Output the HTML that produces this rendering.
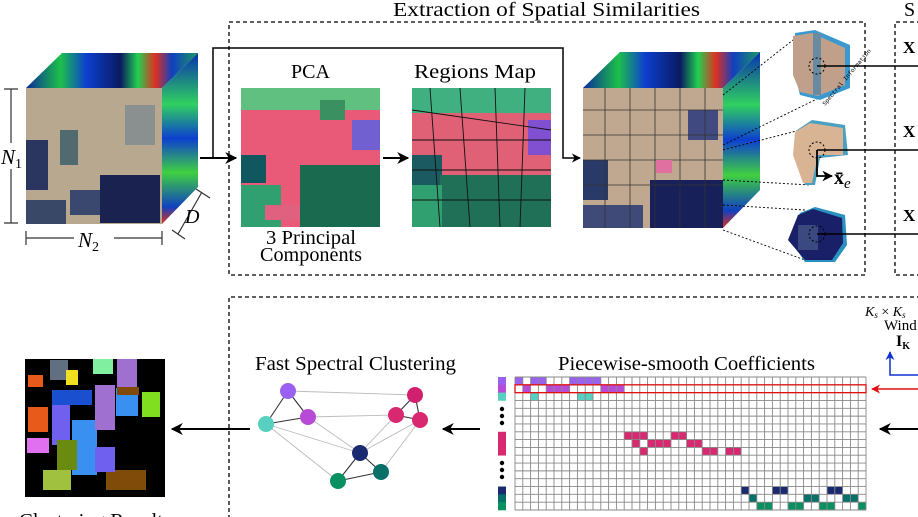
<!DOCTYPE html>
<html><head><meta charset="utf-8"><style>
html,body{margin:0;padding:0;background:#fff;width:918px;height:517px;overflow:hidden}
svg{display:block;font-family:"Liberation Serif",serif}
</style></head><body>
<svg id="fig" width="918" height="517" viewBox="0 0 918 517">
<defs>
<linearGradient id="spec" x1="0" y1="0" x2="1" y2="0">
<stop offset="0" stop-color="#0a2a9a"/><stop offset="0.2" stop-color="#1dc04a"/><stop offset="0.35" stop-color="#0d3fd0"/><stop offset="0.55" stop-color="#0a1a60"/><stop offset="0.65" stop-color="#22d050"/><stop offset="0.75" stop-color="#e03020"/><stop offset="0.85" stop-color="#1040c0"/><stop offset="1" stop-color="#1a9a60"/>
</linearGradient>
<linearGradient id="spec2" x1="0" y1="0" x2="0" y2="1">
<stop offset="0" stop-color="#0830b0"/><stop offset="0.3" stop-color="#30d060"/><stop offset="0.5" stop-color="#0d3fd0"/><stop offset="0.7" stop-color="#40d040"/><stop offset="0.9" stop-color="#1040c0"/><stop offset="1" stop-color="#e03020"/>
</linearGradient>
<marker id="ah" viewBox="0 0 10 10" refX="9" refY="5" markerWidth="6" markerHeight="6" orient="auto"><path d="M0,0 L10,5 L0,10 L3,5z" fill="#000"/></marker>
<marker id="ahr" viewBox="0 0 10 10" refX="9" refY="5" markerWidth="6" markerHeight="6" orient="auto"><path d="M0,0 L10,5 L0,10 L3,5z" fill="#e01010"/></marker>
<marker id="ahb" viewBox="0 0 10 10" refX="9" refY="5" markerWidth="6" markerHeight="6" orient="auto"><path d="M0,0 L10,5 L0,10 L3,5z" fill="#1030d0"/></marker>
</defs>

<!-- titles -->
<text x="393" y="16" font-size="20" textLength="307" lengthAdjust="spacingAndGlyphs">Extraction of Spatial Similarities</text>
<text x="904" y="16" font-size="20">S</text>

<!-- dashed boxes -->
<rect x="229" y="22" width="636" height="253" fill="none" stroke="#000" stroke-width="1.3" stroke-dasharray="4,3"/>
<path d="M935,22 H895 V275 H935" fill="none" stroke="#000" stroke-width="1.3" stroke-dasharray="4,3"/>
<path d="M935,297 H229 V530" fill="none" stroke="#000" stroke-width="1.3" stroke-dasharray="4,3"/>

<!-- cube 1 -->
<g>
<polygon points="26,88 62,53 198,53 162,88" fill="url(#spec)"/>
<polygon points="162,88 198,53 198,187 162,224" fill="url(#spec2)"/>
<rect x="26" y="88" width="136" height="136" fill="#b8a890"/>
<rect x="26" y="140" width="22" height="50" fill="#2a3560"/>
<rect x="100" y="175" width="60" height="48" fill="#1a2250"/>
<rect x="70" y="190" width="30" height="25" fill="#3a4870"/>
<rect x="125" y="105" width="30" height="40" fill="#8a9090"/>
<rect x="60" y="130" width="18" height="35" fill="#506a70"/>
<rect x="26" y="200" width="40" height="24" fill="#3a4868"/>
</g>
<g stroke="#333" stroke-width="1.2" fill="none">
<path d="M11,89 V223 M4,89 H18 M4,223 H18"/>
<path d="M26,238 H162 M26,231 V245 M162,231 V245"/>
<path d="M202,192 L178,234 M196,189 L210,198 M172,230 L185,239"/>
</g>
<rect x="0" y="143" width="24" height="26" fill="#fff"/>
<text x="1" y="164" font-size="21" font-style="italic">N<tspan font-size="14" dy="4" font-style="normal">1</tspan></text>
<rect x="74" y="228" width="40" height="22" fill="#fff"/>
<text x="78" y="247" font-size="21" font-style="italic">N<tspan font-size="14" dy="4" font-style="normal">2</tspan></text>
<text x="185" y="223" font-size="20" font-style="italic">D</text>

<!-- arrows top -->
<path d="M200,158 H236" stroke="#000" stroke-width="2" marker-end="url(#ah)"/>
<path d="M213,158 V48 H563 V158 H580" fill="none" stroke="#000" stroke-width="1.5" marker-end="url(#ah)"/>
<path d="M383,158 H408" stroke="#000" stroke-width="2" marker-end="url(#ah)"/>

<!-- PCA -->
<text x="291" y="78" font-size="20" textLength="39" lengthAdjust="spacingAndGlyphs">PCA</text>
<g>
<rect x="241" y="88" width="139" height="139" fill="#e85a78"/>
<rect x="241" y="88" width="139" height="22" fill="#60c080"/>
<rect x="241" y="155" width="25" height="28" fill="#105860"/>
<rect x="300" y="165" width="80" height="62" fill="#1a6a50"/>
<rect x="241" y="185" width="40" height="42" fill="#30a070"/>
<rect x="352" y="120" width="28" height="30" fill="#7060d0"/>
<rect x="265" y="205" width="35" height="15" fill="#e06080"/>
<rect x="320" y="100" width="25" height="20" fill="#3a9060"/>
</g>
<text x="266" y="244" font-size="20" textLength="90" lengthAdjust="spacingAndGlyphs">3 Principal</text>
<text x="260" y="261" font-size="20" textLength="102" lengthAdjust="spacingAndGlyphs">Components</text>

<!-- Regions -->
<text x="414" y="78" font-size="20" textLength="122" lengthAdjust="spacingAndGlyphs">Regions Map</text>
<g>
<rect x="412" y="88" width="139" height="139" fill="#e06075"/>
<rect x="412" y="88" width="139" height="25" fill="#40b080"/>
<rect x="412" y="155" width="30" height="30" fill="#1a5a60"/>
<rect x="440" y="175" width="111" height="52" fill="#207058"/>
<rect x="412" y="185" width="30" height="42" fill="#30a070"/>
<rect x="528" y="120" width="23" height="35" fill="#8050d0"/>
<path d="M412,110 L551,130 M430,88 L440,227 M460,88 L470,227 M495,88 L500,227 M525,88 L520,227 M412,140 H551 M412,170 H551 M412,200 H551" stroke="#111" stroke-width="0.9" fill="none"/>
</g>

<!-- cube 2 -->
<g>
<polygon points="583,88 620,52 760,52 723,88" fill="url(#spec)"/>
<polygon points="723,88 760,52 760,190 723,228" fill="url(#spec2)"/>
<rect x="583" y="88" width="140" height="140" fill="#c0a890"/>
<rect x="583" y="160" width="25" height="40" fill="#2a3a68"/>
<rect x="650" y="180" width="73" height="48" fill="#18205a"/>
<rect x="583" y="205" width="60" height="23" fill="#404a78"/>
<rect x="688" y="110" width="30" height="30" fill="#404a80"/>
<path d="M583,110 H723 M583,135 H723 M583,160 H723 M583,185 H723 M605,88 V228 M630,88 V228 M655,88 V228 M680,88 V228 M705,88 V228" stroke="#333" stroke-width="0.8" fill="none"/>
<rect x="656" y="160" width="16" height="13" fill="#e070a0"/>
</g>

<!-- patches -->
<g stroke="#000" stroke-width="0.9" stroke-dasharray="2,2" fill="none">
<path d="M723,95 L793,40 M723,145 L825,95 M723,150 L800,130 M723,180 L810,185 M723,205 L805,210 M723,230 L805,260"/>
</g>
<g>
<polygon points="795,33 815,30 850,45 850,88 820,100 800,95 795,75" fill="#3a9ad0"/>
<polygon points="793,36 812,33 845,48 845,85 818,96 800,92 793,75" fill="#c0a08a"/>
<rect x="813" y="33" width="8" height="62" fill="#6a8aa0"/>
</g>
<g>
<polygon points="797,130 812,120 845,125 848,155 820,158 815,185 805,185 795,155" fill="#4aa0c0"/>
<polygon points="795,132 810,123 843,128 843,155 818,155 812,183 803,183 793,155" fill="#d8b494"/>
</g>
<g>
<polygon points="800,213 815,207 845,215 847,245 835,262 805,262 790,240" fill="#2a90c0"/>
<polygon points="798,215 813,209 842,218 843,243 832,260 805,260 788,240" fill="#1a2068"/>
<rect x="798" y="225" width="20" height="25" fill="#3a4a80"/>
</g>
<g fill="none" stroke="#000" stroke-width="1">
<circle cx="817" cy="66" r="8" stroke-dasharray="2,2"/><circle cx="817" cy="150" r="8" stroke-dasharray="2,2"/><circle cx="817" cy="234" r="8" stroke-dasharray="2,2"/>
</g>
<path d="M817,66 H918 M817,150 H918 M817,234 H918" stroke="#000" stroke-width="1.4"/>
<path d="M817,150 V176 H832" fill="none" stroke="#000" stroke-width="1.8" marker-end="url(#ah)"/>
<text x="834" y="184" font-size="20" font-weight="bold">x̄<tspan font-size="15" font-style="italic" font-weight="normal" dy="4">e</tspan></text>
<text x="825" y="106" font-size="6" font-family="Liberation Mono,monospace" transform="rotate(-50 825 106)">Spectral Information</text>
<text x="903" y="53" font-size="17" font-weight="bold">X</text>
<text x="903" y="137" font-size="17" font-weight="bold">X</text>
<text x="903" y="221" font-size="17" font-weight="bold">X</text>

<!-- window text -->
<text x="865" y="316" font-size="14" font-style="italic">K<tspan font-size="9" dy="2">s</tspan><tspan dy="-2" font-style="normal"> × </tspan>K<tspan font-size="9" dy="2">s</tspan></text>
<text x="884" y="330" font-size="15">Wind</text>
<text x="896" y="346" font-size="16" font-weight="bold">I<tspan font-size="10" dy="3">K</tspan></text>
<path d="M918,375 H890 V352" fill="none" stroke="#1030d0" stroke-width="1.5" marker-end="url(#ahb)"/>

<!-- coefficients -->
<text x="558" y="370" font-size="20" textLength="257" lengthAdjust="spacingAndGlyphs">Piecewise-smooth Coefficients</text>
<g id="grid"></g>
<g id="rowlabels"></g>
<g fill="#000">
<circle cx="502" cy="409" r="2.2"/><circle cx="502" cy="416" r="2.2"/><circle cx="502" cy="423" r="2.2"/>
<circle cx="502" cy="463" r="2.2"/><circle cx="502" cy="470" r="2.2"/><circle cx="502" cy="477" r="2.2"/>
</g>
<path d="M918,389 H872" stroke="#e01010" stroke-width="1.5" marker-end="url(#ahr)"/>
<path d="M918,429 H880" stroke="#000" stroke-width="2" marker-end="url(#ah)"/>
<path d="M480,429 H443" stroke="#000" stroke-width="2" marker-end="url(#ah)"/>

<!-- graph -->
<text x="255" y="370" font-size="20" textLength="201" lengthAdjust="spacingAndGlyphs">Fast Spectral Clustering</text>
<g id="graph"></g>
<path d="M250,429 H172" stroke="#000" stroke-width="2" marker-end="url(#ah)"/>

<!-- clustering result -->
<g>
<rect x="25" y="359" width="140" height="138" fill="#000"/>
<rect x="28" y="375" width="15" height="12" fill="#e85a1a"/>
<rect x="28" y="407" width="20" height="25" fill="#e85a1a"/>
<rect x="27" y="438" width="22" height="15" fill="#e070f0"/>
<rect x="52" y="390" width="40" height="15" fill="#1a50d0"/>
<rect x="52" y="405" width="18" height="40" fill="#7060f0"/>
<rect x="72" y="420" width="25" height="55" fill="#3a90f0"/>
<rect x="57" y="440" width="20" height="30" fill="#6a8a10"/>
<rect x="43" y="470" width="28" height="20" fill="#a0c040"/>
<rect x="95" y="385" width="20" height="45" fill="#a070d0"/>
<rect x="116" y="388" width="22" height="28" fill="#3a90f0"/>
<rect x="142" y="392" width="18" height="25" fill="#80e020"/>
<rect x="106" y="470" width="40" height="20" fill="#804a08"/>
<rect x="95" y="447" width="20" height="25" fill="#7060f0"/>
<rect x="117" y="359" width="20" height="28" fill="#a070d0"/>
<rect x="93" y="359" width="20" height="15" fill="#80f0a0"/>
<rect x="50" y="360" width="18" height="20" fill="#607080"/>
<rect x="66" y="370" width="12" height="15" fill="#f0e020"/>
<rect x="117" y="387" width="22" height="8" fill="#804a08"/>
</g>
<text x="19" y="527" font-size="20" textLength="152" lengthAdjust="spacingAndGlyphs">Clustering Results</text>

<script>
// coefficient matrix data
var nRows = 17;
var nCols = 45;
var rowColors = ["#9a60f0","#b84ad8","#58d0c0","","","","","#d82870","#d82870","#d82870","","","","","#1a2a70","#087068","#089060"];
var activeRows = [0,0,0,0,0,0,0,1,1,1,1,1,1,1,2,2,2,7,7,7,7,7,8,8,8,8,8,8,9,9,9,9,9,14,14,14,14,14,15,15,15,15,15,16,16,16,16,16,16,16];
var activeCols = [0,2,3,7,8,9,10,1,4,5,6,11,12,13,2,8,9,14,15,16,20,21,15,17,18,19,22,23,16,24,25,27,28,29,33,34,40,41,30,37,38,42,43,31,32,35,36,39,40,44];
var highlightRow = 1;

var svgNS = "http://www.w3.org/2000/svg";
var gx0 = 515, gy0 = 377, gw = 351, gh = 133;
function colX(c){ return gx0 + c * gw / nCols; }
function rowY(r){ return gy0 + r * gh / nRows; }
var grid = document.getElementById('grid');
var cw = gw / nCols, rh = gh / nRows;
for (var i = 0; i < activeRows.length; i++) {
  var cell = document.createElementNS(svgNS, 'rect');
  
  
  cell.setAttribute('x', colX(activeCols[i]));
  cell.setAttribute('y', rowY(activeRows[i]));
  cell.setAttribute('width', cw);
  cell.setAttribute('height', rh);
  cell.setAttribute('fill', rowColors[activeRows[i]] || '#888');
  grid.appendChild(cell);
}
var d = '';
for (var r = 0; r <= nRows; r++) d += 'M' + gx0 + ',' + rowY(r) + 'H' + (gx0 + gw);
for (var c = 0; c <= nCols; c++) d += 'M' + colX(c) + ',' + gy0 + 'V' + (gy0 + gh);
var lines = document.createElementNS(svgNS, 'path');


lines.setAttribute('d', d);
lines.setAttribute('stroke', '#888');
lines.setAttribute('stroke-width', '0.9');
lines.setAttribute('fill', 'none');
grid.appendChild(lines);
var hl = document.createElementNS(svgNS, 'rect');


hl.setAttribute('x', gx0);
hl.setAttribute('y', rowY(highlightRow));
hl.setAttribute('width', gw);
hl.setAttribute('height', rh);
hl.setAttribute('fill', 'none');
hl.setAttribute('stroke', '#e01010');
hl.setAttribute('stroke-width', '1.3');
grid.appendChild(hl);
var rl = document.getElementById('rowlabels');
for (var r2 = 0; r2 < nRows; r2++) {
  if (!rowColors[r2]) continue;
  var lab = document.createElementNS(svgNS, 'rect');
  
  
  lab.setAttribute('x', 498);
  lab.setAttribute('y', rowY(r2));
  lab.setAttribute('width', 8);
  lab.setAttribute('height', rh + 0.3);
  lab.setAttribute('fill', rowColors[r2]);
  rl.appendChild(lab);
}

// graph data
var nodeX = [288, 308, 266, 415, 396, 420, 360, 381, 338];
var nodeY = [391, 417, 424, 395, 415, 420, 453, 472, 481];
var nodeColors = ["#9a60f0","#b84ad8","#58d0c0","#d02070","#d82870","#d82870","#1a2a70","#087068","#089060"];
var strongEdges = [[0,1],[0,2],[1,2],[3,4],[3,5],[4,5],[6,7],[6,8],[7,8]];
var weakEdges = [[0,3],[1,4],[1,6],[2,6],[2,8],[4,6],[5,6],[5,7]];
var gg = document.getElementById('graph');
function edge(a, b, col, w, name) {
  var l = document.createElementNS(svgNS, 'line');
  
  
  l.setAttribute('x1', nodeX[a]); l.setAttribute('y1', nodeY[a]);
  l.setAttribute('x2', nodeX[b]); l.setAttribute('y2', nodeY[b]);
  l.setAttribute('stroke', col); l.setAttribute('stroke-width', w);
  gg.appendChild(l);
}
weakEdges.forEach(function(e){ edge(e[0], e[1], '#bbb', 0.9, 'weak-edge'); });
strongEdges.forEach(function(e){ edge(e[0], e[1], '#333', 1.1, 'strong-edge'); });
for (var n = 0; n < nodeX.length; n++) {
  var ci = document.createElementNS(svgNS, 'circle');
  
  
  ci.setAttribute('cx', nodeX[n]); ci.setAttribute('cy', nodeY[n]);
  ci.setAttribute('r', 8);
  ci.setAttribute('fill', nodeColors[n]);
  gg.appendChild(ci);
}
</script>
</svg>
</body></html>
